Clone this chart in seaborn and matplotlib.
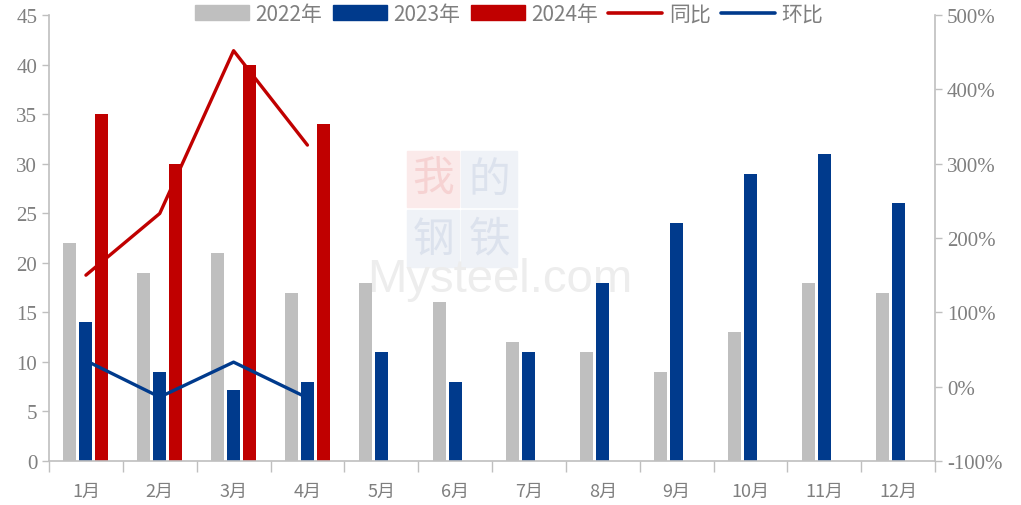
import numpy as np
import pandas as pd
import seaborn as sns
import matplotlib.pyplot as plt
from matplotlib.patches import Patch, Rectangle
from matplotlib.lines import Line2D
from matplotlib.ticker import FuncFormatter, FixedLocator

# chart data
months = ["1月", "2月", "3月", "4月", "5月", "6月", "7月", "8月", "9月", "10月", "11月", "12月"]
v2022 = [22, 19, 21, 17, 18, 16, 12, 11, 9, 13, 18, 17]
v2023 = [14, 9, 7.2, 8, 11, 8, 11, 18, 24, 29, 31, 26]
v2024 = [35, 30, 40, 34]
yoy = [150, 233, 452, 325]    # 同比 (%)
mom = [35, -14, 33, -15]      # 环比 (%)
years = ["2022年", "2023年", "2024年"]

gray = "#BFBFBF"
blue = "#003A8C"
red = "#C00000"
txt = "#7F7F7F"
axc = "#BFBFBF"

rows = []
for yr, vals in zip(years, [v2022, v2023, v2024]):
    for m, v in zip(months, vals):
        rows.append({"month": m, "value": v, "year": yr})
df = pd.DataFrame(rows)

sns.set_style("white")
plt.rcParams['font.family'] = ['Noto Sans CJK SC', 'DejaVu Sans']

fig = plt.figure(figsize=(10.21, 5.06), dpi=100)

# watermark (behind everything)
W, H = 1021, 506
def box(x0, y0, x1, y1, c):
    fig.patches.append(Rectangle((x0 / W, 1 - y1 / H), (x1 - x0) / W, (y1 - y0) / H,
                                 transform=fig.transFigure, color=c, zorder=-2))
box(407, 152, 459, 208, "#FBEAEA")
box(461, 152, 517, 208, "#EFF2F7")
box(407, 211, 459, 268, "#EFF2F7")
box(461, 211, 517, 268, "#EFF2F7")
for ch, cx, cy, c in [("我", 433, 180, "#F6D2D2"), ("的", 489, 180, "#DCE2ED"),
                      ("钢", 433, 240, "#DCE2ED"), ("铁", 489, 240, "#DCE2ED")]:
    fig.text(cx / W, 1 - cy / H, ch, fontsize=30, color=c, ha="center", va="center", zorder=-1)
fig.text(500 / W, 1 - 280 / H, "Mysteel.com", fontsize=34, color="#EDEDED",
         ha="center", va="center", zorder=-1, family="Liberation Sans")

ax = fig.add_axes([49 / W, 1 - 462 / H, (935 - 49) / W, (462 - 16) / H])
ax.patch.set_alpha(0)

sns.barplot(data=df, x="month", y="value", hue="year", order=months, hue_order=years,
            palette=[gray, blue, red], width=0.65, gap=0.19, saturation=1,
            linewidth=0, legend=False, ax=ax)
ax.set_xlim(-0.5, 11.5)
ax.set_ylim(0, 45)
ax.set_yticks(range(0, 46, 5))
ax.set_xlabel("")
ax.set_ylabel("")

# x ticks: labels at centers, marks at category boundaries
ax.set_xticks(range(12))
ax.set_xticklabels(months, fontsize=13, color=txt)
ax.xaxis.set_minor_locator(FixedLocator(np.arange(-0.5, 12, 1)))
ax.tick_params(axis="x", which="major", length=0, pad=15)
ax.tick_params(axis="x", which="minor", length=8, width=1, color=axc, direction="out", bottom=True)
ax.tick_params(axis="y", length=5, width=1, color=axc, direction="out", left=True)
for lab in ax.get_yticklabels():
    lab.set_family("Liberation Serif")
    lab.set_fontsize(15)
    lab.set_color(txt)

for s in ["top", "right"]:
    ax.spines[s].set_visible(False)
for s in ["left", "bottom"]:
    ax.spines[s].set_color(axc)
    ax.spines[s].set_linewidth(1.2)

# ratio lines on the right axis
ax2 = ax.twinx()
sns.lineplot(x=np.arange(len(yoy)), y=yoy, color=red, linewidth=2.4, ax=ax2)
sns.lineplot(x=np.arange(len(mom)), y=mom, color=blue, linewidth=2.4, ax=ax2)
ax2.set_ylim(-100, 500)
ax2.set_yticks(range(-100, 501, 100))
ax2.yaxis.set_major_formatter(FuncFormatter(lambda v, p: f"{v:.0f}%"))
ax2.tick_params(axis="y", length=5, width=1, color=axc, direction="out", right=True)
for lab in ax2.get_yticklabels():
    lab.set_family("Liberation Serif")
    lab.set_fontsize(15)
    lab.set_color(txt)
for s in ["top", "left", "bottom"]:
    ax2.spines[s].set_visible(False)
ax2.spines["right"].set_color(axc)
ax2.spines["right"].set_linewidth(1.2)
ax2.set_xlim(-0.5, 11.5)

handles = [Patch(color=gray), Patch(color=blue), Patch(color=red),
           Line2D([], [], color=red, lw=2.6), Line2D([], [], color=blue, lw=2.6)]
labels = years + ["同比", "环比"]
leg = fig.legend(handles, labels, loc="center", bbox_to_anchor=(509 / W, 1 - 15 / H),
                 ncol=5, frameon=False, fontsize=15, handlelength=2.6,
                 handleheight=0.72, handletextpad=0.3, columnspacing=0.5,
                 borderpad=0)
for t in leg.get_texts():
    t.set_color(txt)

plt.savefig("out.png", dpi=100)
